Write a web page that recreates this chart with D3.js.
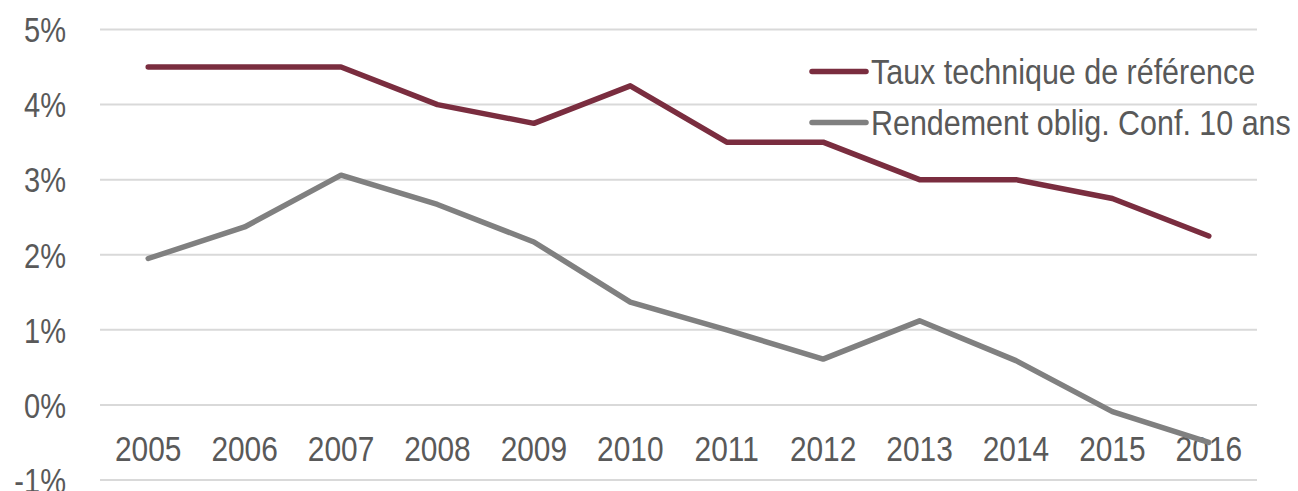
<!DOCTYPE html>
<html>
<head>
<meta charset="utf-8">
<script src="https://cdn.jsdelivr.net/npm/d3@7"></script>
<style>
  html, body { margin: 0; padding: 0; background: #fff; }
  svg { display: block; }
  text { font-family: "Liberation Sans", Arial, sans-serif; fill: #595959; }
</style>
</head>
<body>
<svg id="chart" width="1298" height="491"></svg>
<script>
// Years on the x axis
const years = ["2005", "2006", "2007", "2008", "2009", "2010", "2011", "2012", "2013", "2014", "2015", "2016"];
// Technical reference rate (%)
const tauxTechnique = [4.5, 4.5, 4.5, 4.0, 3.75, 4.25, 3.5, 3.5, 3.0, 3.0, 2.75, 2.25];
// 10-year Swiss Confederation bond yield (%)
const rendementOblig = [1.95, 2.37, 3.06, 2.67, 2.17, 1.37, 1.0, 0.61, 1.12, 0.59, -0.09, -0.5];
// Y axis ticks (%)
const yTicks = [-1, 0, 1, 2, 3, 4, 5];
const seriesNames = ["Taux technique de référence", "Rendement oblig. Conf. 10 ans"];
const seriesColors = ["#7a2d3f", "#808080"];

// Narrow type: regular sans squeezed horizontally
const condense = "scale(0.83,1)";
const condenseLegend = "scale(0.87,1)";

const svg = d3.select("#chart");
const plot = { left: 100, right: 1257, top: 29.5, bottom: 480 };

const x = d3.scaleBand().domain(years).range([plot.left, plot.right]).padding(0);
const y = d3.scaleLinear().domain([-1, 5]).range([plot.bottom, plot.top]);

// Horizontal gridlines
svg.append("g")
  .selectAll("line")
  .data(yTicks)
  .join("line")
  .attr("x1", plot.left).attr("x2", plot.right)
  .attr("y1", d => y(d)).attr("y2", d => y(d))
  .attr("stroke", "#d9d9d9").attr("stroke-width", 2);

// Y axis labels
const yAxis = d3.axisLeft(y).tickValues(yTicks).tickFormat(d => d + "%").tickSize(0).tickPadding(0);
const gy = svg.append("g").attr("transform", "translate(66,0)").call(yAxis);
gy.select(".domain").remove();
gy.selectAll("text").attr("font-size", 35).attr("fill", "#595959")
  .style("font-family", null).attr("dy", "0.35em").attr("transform", condense);

// X axis labels
const xAxis = d3.axisBottom(x).tickSize(0).tickPadding(0);
const gx = svg.append("g").attr("transform", "translate(0,448)").call(xAxis);
gx.select(".domain").remove();
gx.selectAll("text").attr("font-size", 36).attr("fill", "#595959")
  .style("font-family", null).attr("dy", "0.35em").attr("transform", condense);

// Lines
const line = d3.line()
  .x((d, i) => x(years[i]) + x.bandwidth() / 2)
  .y(d => y(d));

[tauxTechnique, rendementOblig].forEach((vals, k) => {
  svg.append("path")
    .datum(vals)
    .attr("d", line)
    .attr("fill", "none")
    .attr("stroke", seriesColors[k])
    .attr("stroke-width", 5.5)
    .attr("stroke-linejoin", "round")
    .attr("stroke-linecap", "round");
});

// Legend
const legend = svg.append("g");
const legendY = [71.5, 122.5];
seriesNames.forEach((name, k) => {
  legend.append("line")
    .attr("x1", 812).attr("x2", 866)
    .attr("y1", legendY[k]).attr("y2", legendY[k])
    .attr("stroke", seriesColors[k]).attr("stroke-width", 5.5)
    .attr("stroke-linecap", "round");
  legend.append("g")
    .attr("transform", `translate(871,${legendY[k]})`)
    .append("text")
    .attr("transform", condenseLegend)
    .attr("dy", "0.35em")
    .attr("font-size", 35)
    .text(name);
});
</script>
</body>
</html>
